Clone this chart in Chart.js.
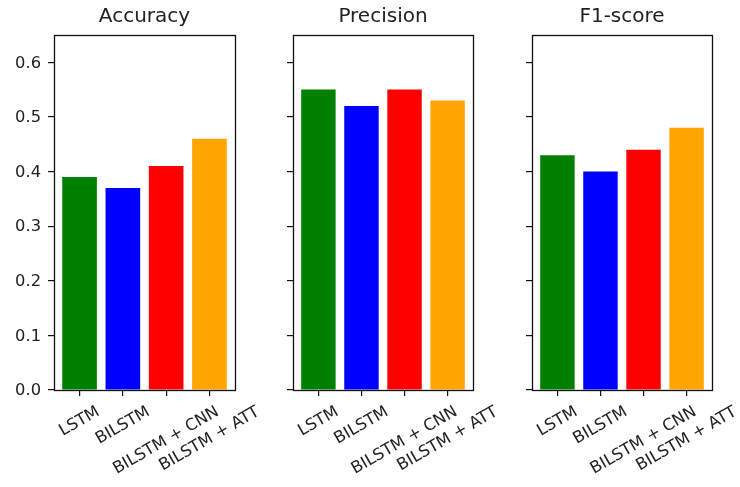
<!DOCTYPE html>
<html><head><meta charset="utf-8">
<script src="https://cdn.jsdelivr.net/npm/chart.js@4"></script>
<style>
html,body{margin:0;padding:0;background:#fff;}
#wrap{position:relative;width:740px;height:487px;background:#fff;}
#wrap canvas{position:absolute;left:0;top:0;}
</style>
</head><body>
<div id="wrap">
<canvas id="c0" width="740" height="487"></canvas>
<canvas id="c1" width="740" height="487"></canvas>
<canvas id="c2" width="740" height="487"></canvas>
</div>
<script>
const categories = ['LSTM', 'BILSTM', 'BILSTM + CNN', 'BILSTM + ATT'];
const accuracy = [0.39, 0.37, 0.41, 0.46];
const precision = [0.55, 0.52, 0.55, 0.53];
const f1score = [0.43, 0.40, 0.44, 0.48];
const panelTitles = ['Accuracy', 'Precision', 'F1-score'];
const barColors = ['#008000', '#0000ff', '#ff0000', '#ffa500'];
const yTicks = [0, 0.1, 0.2, 0.3, 0.4, 0.5, 0.6];

const FONT = '"DejaVu Sans", "Liberation Sans", sans-serif';
const TEXT = '#222';
const TICK_SIZE = 16.3;
const axLeft = [54, 293, 532];
const axRight = [235, 473, 712];
const Y_AXIS_W = 54;
const X_AXIS_H = 97;

const framePlugin = {
  id: 'frame',
  afterDatasetsDraw(chart) {
    const a = chart.chartArea, ctx = chart.ctx;
    ctx.save();
    ctx.strokeStyle = '#111';
    ctx.lineWidth = 1.3;
    ctx.strokeRect(Math.round(a.left) + 0.5, Math.round(a.top) + 0.5,
      Math.round(a.right - a.left), Math.round(a.bottom - a.top));
    ctx.restore();
  }
};

const xLabelPlugin = {
  id: 'xlabels',
  afterDraw(chart) {
    const xs = chart.scales.x, ctx = chart.ctx;
    const size = TICK_SIZE;
    const ang = Math.PI / 6;
    ctx.save();
    ctx.font = size + 'px ' + FONT;
    ctx.fillStyle = TEXT;
    ctx.textAlign = 'center';
    ctx.textBaseline = 'middle';
    categories.forEach((lab, i) => {
      const x = xs.getPixelForValue(i);
      const w = ctx.measureText(lab).width;
      const h = size * 1.1;
      const bh = w * Math.sin(ang) + h * Math.cos(ang);
      const cy = chart.chartArea.bottom + 13 + bh / 2;
      ctx.save();
      ctx.translate(x, cy);
      ctx.rotate(-ang);
      ctx.fillText(lab, 0, 0);
      ctx.restore();
    });
    ctx.restore();
  }
};

function makeChart(idx, values) {
  const ctx = document.getElementById('c' + idx).getContext('2d');
  return new Chart(ctx, {
    type: 'bar',
    data: {
      datasets: [{
        data: values.map((v, i) => ({ x: i, y: v })),
        backgroundColor: barColors,
        borderWidth: 0,
        barPercentage: 0.8,
        categoryPercentage: 1.0
      }]
    },
    options: {
      responsive: false,
      animation: false,
      devicePixelRatio: 1,
      layout: { padding: { left: axLeft[idx] - Y_AXIS_W, right: 740 - axRight[idx], top: 0, bottom: 0 } },
      plugins: {
        legend: { display: false },
        tooltip: { enabled: false },
        title: {
          display: true,
          text: panelTitles[idx],
          fullSize: false,
          color: TEXT,
          font: { family: FONT, size: 20, weight: 'normal', lineHeight: 1.2 },
          padding: { top: 4.5, bottom: 6.5 }
        }
      },
      scales: {
        x: {
          type: 'linear',
          min: -0.59,
          max: 3.59,
          offset: false,
          afterBuildTicks(s) { s.ticks = categories.map((c, i) => ({ value: i })); },
          afterFit(s) { s.height = X_AXIS_H; },
          ticks: { display: false },
          border: { display: false },
          grid: { drawOnChartArea: false, drawTicks: true, tickLength: 6, color: '#111', lineWidth: 1.2, offset: false }
        },
        y: {
          min: 0,
          max: 0.65,
          afterBuildTicks(s) { s.ticks = yTicks.map(v => ({ value: v })); },
          afterFit(s) { s.width = Y_AXIS_W; },
          ticks: {
            display: true,
            padding: 7,
            labelOffset: 1,
            color: TEXT,
            font: { family: FONT, size: TICK_SIZE },
            callback: (v) => idx === 0 ? Number(v).toFixed(1) : ''
          },
          border: { display: false },
          grid: { drawOnChartArea: false, drawTicks: true, tickLength: 6, color: '#111', lineWidth: 1.2 }
        }
      }
    },
    plugins: [framePlugin, xLabelPlugin]
  });
}

makeChart(0, accuracy);
makeChart(1, precision);
makeChart(2, f1score);
</script>
</body></html>
